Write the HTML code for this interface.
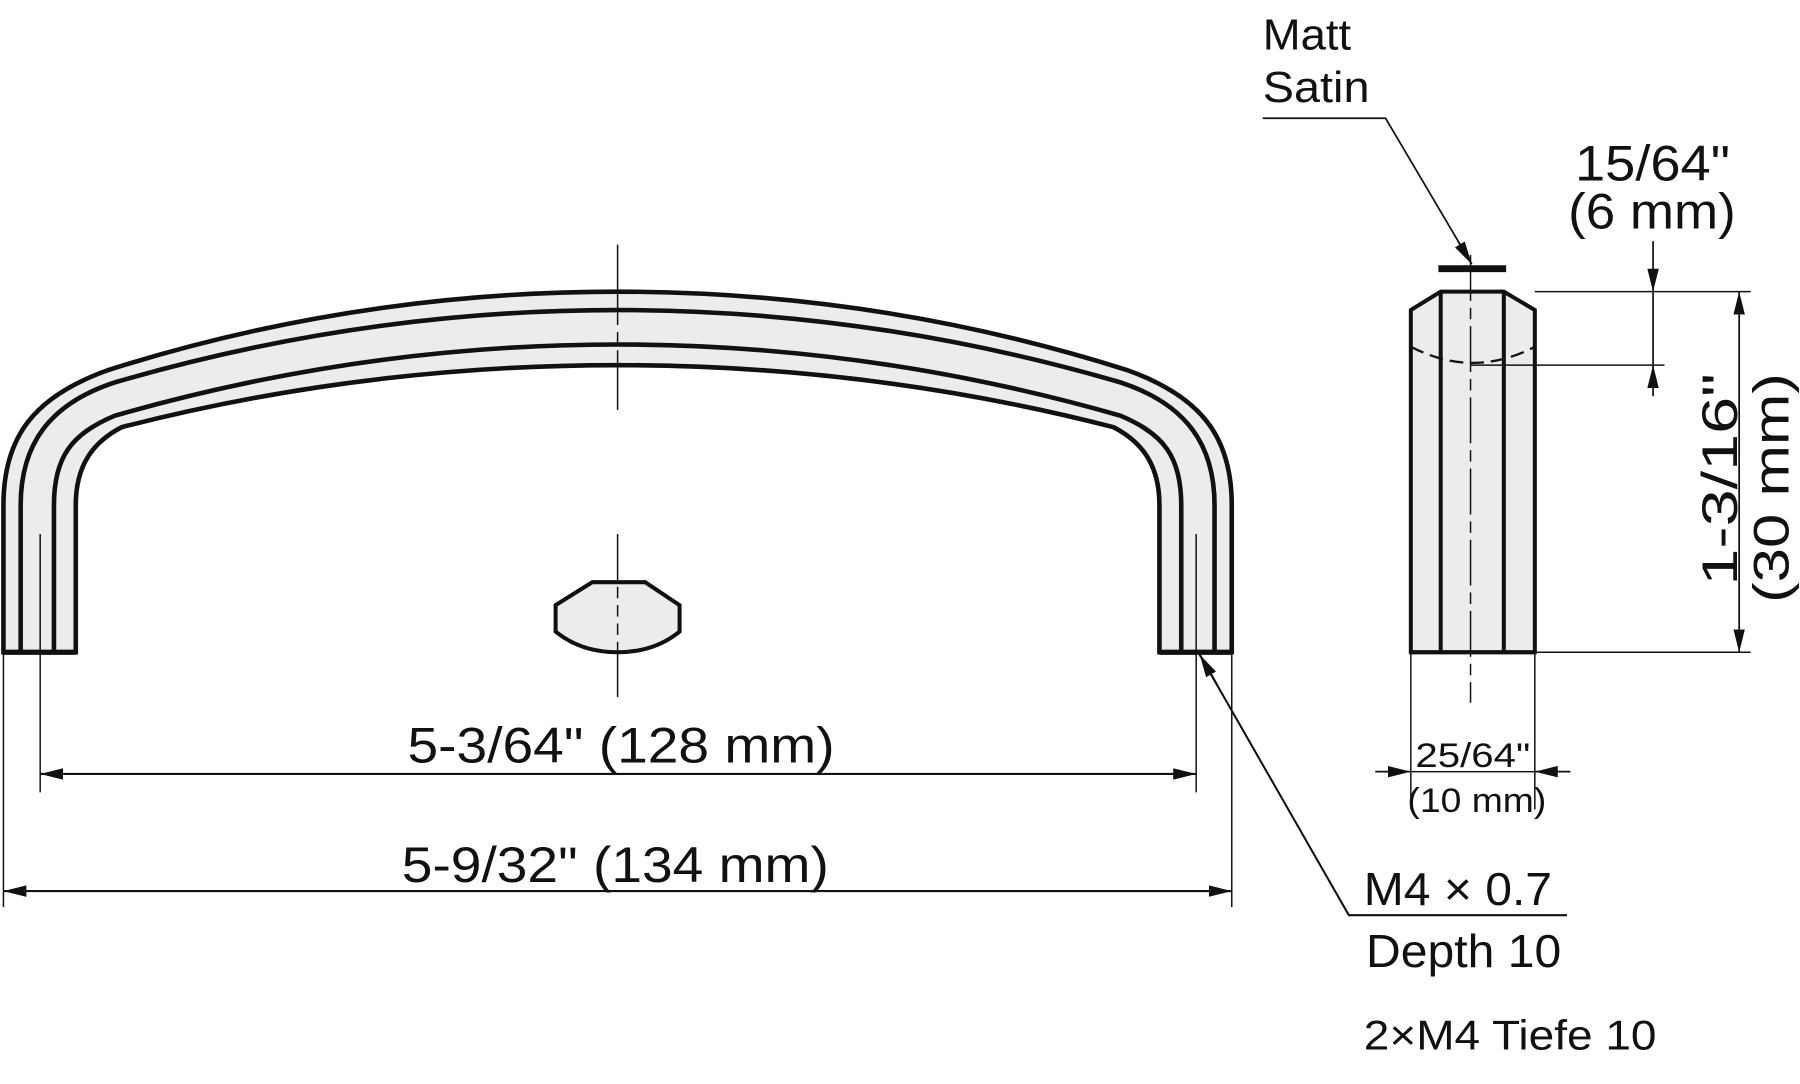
<!DOCTYPE html>
<html><head><meta charset="utf-8"><style>
html,body{margin:0;padding:0;background:#fff;}
svg{display:block;}
text{font-family:"Liberation Sans",sans-serif;fill:#111;}
</style></head><body>
<svg width="1800" height="1084" viewBox="0 0 1568 944" preserveAspectRatio="none">
<defs>
<marker id="a" viewBox="0 0 20 10" refX="20" refY="5" markerWidth="20" markerHeight="10" markerUnits="userSpaceOnUse" orient="auto"><path d="M0,0 L20,5 L0,10 z" fill="#111"/></marker>
</defs>
<g stroke="#111" fill="none">
<path d="M3,568 L3,440 C3,380 30,345 95,322 Q310,254 538,254 Q766,254 981,322 C1046,345 1073,380 1073,440 L1073,568 L1010,568 L1010,440 C1010,405 995,385 970,372 Q760,318 538,318 Q316,318 106,372 C81,385 66,405 66,440 L66,568 Z" fill="#ececec" stroke-width="4"/>
<path d="M18,568 L18,440 C18,388 42,352 100,333 Q316,270 538,270 Q760,270 976,333 C1034,352 1058,388 1058,440 L1058,568" stroke-width="4"/>
<path d="M47,568 L47,440 C47,398 62,378 100,362 Q316,300 538,300 Q760,300 976,362 C1014,378 1029,398 1029,440 L1029,568" stroke-width="4"/>
<line x1="3" y1="568" x2="66" y2="568" stroke-width="4.5"/>
<line x1="1010" y1="568" x2="1073" y2="568" stroke-width="4.5"/>
<path d="M516,507 L562,507 L592,527 L592,550 Q570,568 538,568 Q506,568 484,550 L484,527 Z" fill="#ececec" stroke-width="3.5"/>
<line x1="538" y1="213" x2="538" y2="357" stroke-width="1.3" stroke-dasharray="70,6,10,6"/>
<line x1="538" y1="465" x2="538" y2="607" stroke-width="1.3" stroke-dasharray="40,6,10,6,10,6,10,6,200"/>
<line x1="35" y1="465" x2="35" y2="690" stroke-width="1.3"/>
<line x1="1042" y1="465" x2="1042" y2="690" stroke-width="1.3"/>
<line x1="3" y1="568" x2="3" y2="790" stroke-width="1.3"/>
<line x1="1073" y1="568" x2="1073" y2="790" stroke-width="1.3"/>
<line x1="55" y1="674" x2="35" y2="674" stroke-width="1.8" marker-end="url(#a)"/>
<line x1="55" y1="674" x2="1042" y2="674" stroke-width="1.8" marker-end="url(#a)"/>
<line x1="30" y1="776" x2="3" y2="776" stroke-width="1.8" marker-end="url(#a)"/>
<line x1="30" y1="776" x2="1073" y2="776" stroke-width="1.8" marker-end="url(#a)"/>
<path d="M1365,797 L1175,797 L1045,570" stroke-width="1.8"/>
<line x1="1060" y1="596" x2="1045" y2="570" stroke-width="1.8" marker-end="url(#a)"/>
<path d="M1229,568 L1229,270 L1255,254 L1310,254 L1337,270 L1337,568 Z" fill="#ececec" stroke-width="3.5"/>
<line x1="1255" y1="254" x2="1255" y2="568" stroke-width="3.5"/>
<line x1="1310" y1="254" x2="1310" y2="568" stroke-width="3.5"/>
<line x1="1229" y1="568" x2="1337" y2="568" stroke-width="3.5"/>
<path d="M1229,302 Q1283,330 1337,302" stroke-width="2" stroke-dasharray="12,6"/>
<line x1="1281" y1="222" x2="1281" y2="612" stroke-width="1.3" stroke-dasharray="40,6,10,6"/>
<line x1="1253" y1="234" x2="1312" y2="234" stroke-width="6"/>
<path d="M1100,103 L1207,103 L1282,230" stroke-width="1.5"/>
<line x1="1270" y1="210" x2="1282" y2="230" stroke-width="1.5" marker-end="url(#a)"/>
<line x1="1337" y1="254" x2="1525" y2="254" stroke-width="1.3"/>
<line x1="1281" y1="318" x2="1450" y2="318" stroke-width="1.3"/>
<line x1="1337" y1="568" x2="1525" y2="568" stroke-width="1.3"/>
<line x1="1440" y1="210" x2="1440" y2="254" stroke-width="1.5" marker-end="url(#a)"/>
<line x1="1440" y1="254" x2="1440" y2="318" stroke-width="1.5"/>
<line x1="1440" y1="345" x2="1440" y2="318" stroke-width="1.5" marker-end="url(#a)"/>
<line x1="1515" y1="400" x2="1515" y2="254" stroke-width="1.5" marker-end="url(#a)"/>
<line x1="1515" y1="400" x2="1515" y2="568" stroke-width="1.5" marker-end="url(#a)"/>
<line x1="1229" y1="568" x2="1229" y2="705" stroke-width="1.3"/>
<line x1="1337" y1="568" x2="1337" y2="705" stroke-width="1.3"/>
<line x1="1198" y1="672" x2="1229" y2="672" stroke-width="1.5" marker-end="url(#a)"/>
<line x1="1368" y1="672" x2="1337" y2="672" stroke-width="1.5" marker-end="url(#a)"/>
<line x1="1229" y1="672" x2="1337" y2="672" stroke-width="1.2"/>
</g>
<text x="355" y="664" font-size="44" textLength="372" lengthAdjust="spacingAndGlyphs">5-3/64" (128 mm)</text>
<text x="350" y="768" font-size="44" textLength="372" lengthAdjust="spacingAndGlyphs">5-9/32" (134 mm)</text>
<text x="1100" y="43" font-size="38" textLength="77" lengthAdjust="spacingAndGlyphs">Matt</text>
<text x="1100" y="89" font-size="38" textLength="93" lengthAdjust="spacingAndGlyphs">Satin</text>
<text x="1372" y="157" font-size="44" textLength="135" lengthAdjust="spacingAndGlyphs">15/64"</text>
<text x="1366" y="199" font-size="44" textLength="146" lengthAdjust="spacingAndGlyphs">(6 mm)</text>
<text transform="translate(1513,510) rotate(-90)" font-size="44" textLength="185" lengthAdjust="spacingAndGlyphs">1-3/16"</text>
<text transform="translate(1558,525) rotate(-90)" font-size="44" textLength="200" lengthAdjust="spacingAndGlyphs">(30 mm)</text>
<text x="1233" y="668" font-size="30" textLength="100" lengthAdjust="spacingAndGlyphs">25/64"</text>
<text x="1226" y="707" font-size="30" textLength="121" lengthAdjust="spacingAndGlyphs">(10 mm)</text>
<text x="1188" y="788" font-size="40" textLength="164" lengthAdjust="spacingAndGlyphs">M4 × 0.7</text>
<text x="1190" y="842" font-size="40" textLength="170" lengthAdjust="spacingAndGlyphs">Depth 10</text>
<text x="1188" y="914" font-size="36" textLength="255" lengthAdjust="spacingAndGlyphs">2×M4 Tiefe 10</text>
</svg>
</body></html>
